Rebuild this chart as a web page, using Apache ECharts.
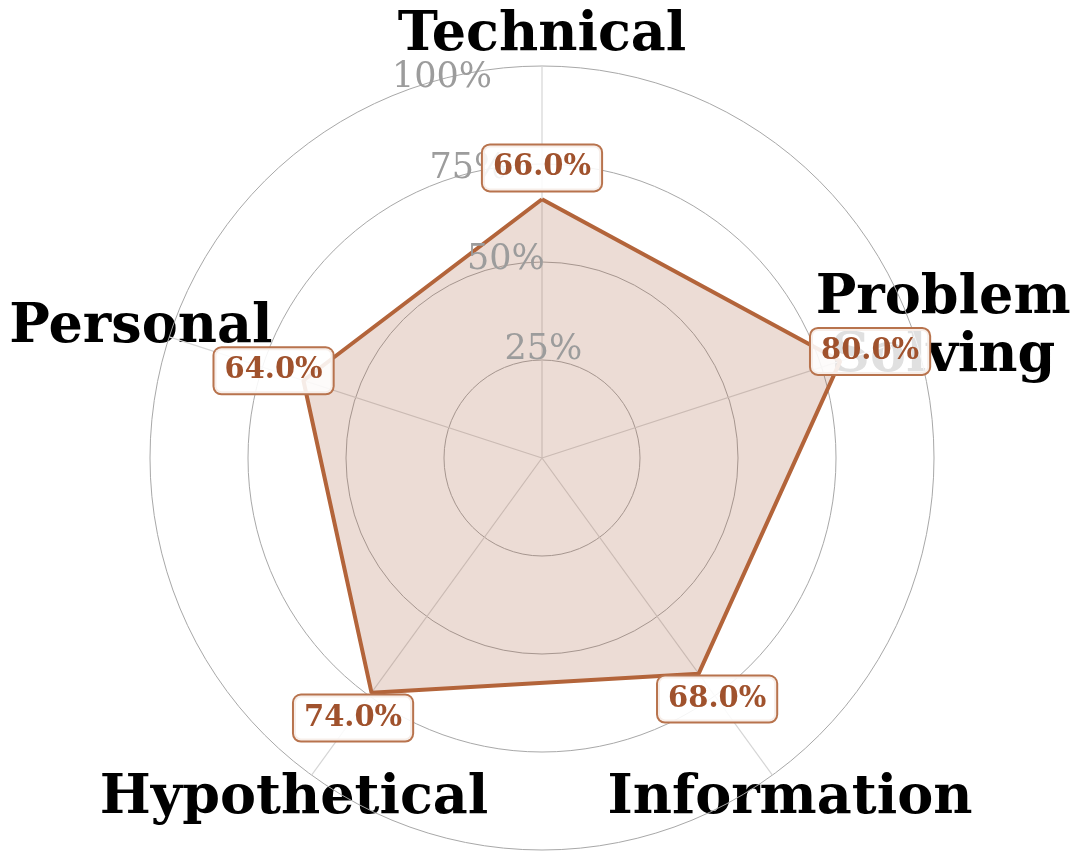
<!DOCTYPE html>
<html>
<head>
<meta charset="utf-8">
<script src="https://cdn.jsdelivr.net/npm/echarts@6/dist/echarts.min.js"></script>
<style>
  html, body { margin: 0; background: #fff; }
  #chart { width: 1080px; height: 860px; }
</style>
</head>
<body>
<div id="chart"></div>
<script>
// ===== data =====
const categories = ['Technical', 'Problem\nSolving', 'Information', 'Hypothetical', 'Personal'];
const scores = [66, 80, 68, 74, 64];
const radiusTicks = [25, 50, 75, 100];
const tickLabels = ['25%', '50%', '75%', '100%'];

// ===== style constants =====
const COLORS = {
  line: '#b3643a',
  area: 'rgba(160, 82, 45, 0.2)',
  valueText: '#a0522d',
  valueBorder: '#b8734d',
  circle: '#a8a8a8',
  spoke: '#d6d6d6',
  tick: '#9c9c9c',
  name: '#000000',
};
const FONT = '"DejaVu Serif", serif';
const STEP = 360 / categories.length;
const angleOf = (i) => i * STEP;
const LABEL_OFFSET = 8;        // value label sits 8 points beyond its vertex
const NAME_RADIUS = 107.6;     // category names ring, in radius units
const TICK_ANGLE = 360 - 22.5; // radial tick labels, 22.5deg left of top

// scatter carriers for text only (opacity 1, otherwise scatter fades its labels)
const carrier = { symbolSize: 1, itemStyle: { color: 'transparent', opacity: 1 }, clip: false, silent: true };

const chart = echarts.init(document.getElementById('chart'), null, { renderer: 'canvas' });

// closed polygon: repeat first vertex at 360
const polyData = scores.map((v, i) => [v, angleOf(i)]);
polyData.push([scores[0], 360]);

const option = {
  animation: false,
  backgroundColor: '#fff',
  polar: { center: [542, 458], radius: 392 },
  angleAxis: {
    type: 'value',
    min: 0,
    max: 360,
    interval: STEP,
    startAngle: 90,
    clockwise: true,
    axisLine: { show: false },
    axisTick: { show: false },
    axisLabel: { show: false },
    splitLine: { show: true, lineStyle: { color: COLORS.spoke, width: 1.2 } },
  },
  radiusAxis: {
    type: 'value',
    min: 0,
    max: 100,
    interval: 25,
    axisLine: { show: false },
    axisTick: { show: false },
    axisLabel: { show: false },
    splitLine: { show: true, lineStyle: { color: COLORS.circle, width: 1 } },
  },
  series: [
    {
      type: 'line',
      coordinateSystem: 'polar',
      data: polyData,
      symbol: 'none',
      lineStyle: { color: COLORS.line, width: 4 },
      areaStyle: { color: COLORS.area, opacity: 1 },
      z: 2,
    },
    {
      // radial tick labels
      type: 'scatter',
      coordinateSystem: 'polar',
      data: radiusTicks.map((r) => [r, TICK_ANGLE]),
      ...carrier,
      z: 3,
      label: {
        show: true,
        position: 'inside',
        align: 'left',
        verticalAlign: 'bottom',
        formatter: (p) => tickLabels[p.dataIndex],
        fontFamily: FONT,
        fontSize: 35,
        color: COLORS.tick,
      },
    },
    {
      // category names
      type: 'scatter',
      coordinateSystem: 'polar',
      data: categories.map((c, i) => [NAME_RADIUS, angleOf(i)]),
      ...carrier,
      z: -1,
      label: {
        show: true,
        position: 'inside',
        align: 'center',
        verticalAlign: 'middle',
        formatter: (p) => categories[p.dataIndex],
        fontFamily: FONT,
        fontWeight: 'bold',
        fontSize: 54,
        lineHeight: 58,
        color: COLORS.name,
      },
    },
    {
      // value labels
      type: 'scatter',
      coordinateSystem: 'polar',
      data: scores.map((v, i) => [v + LABEL_OFFSET, angleOf(i)]),
      ...carrier,
      z: 10,
      label: {
        show: true,
        position: 'inside',
        formatter: (p) => scores[p.dataIndex].toFixed(1) + '%',
        fontFamily: FONT,
        fontWeight: 'bold',
        fontSize: 29,
        lineHeight: 33,
        color: COLORS.valueText,
        backgroundColor: 'rgba(255, 255, 255, 0.88)',
        borderColor: COLORS.valueBorder,
        borderWidth: 2,
        borderRadius: 7,
        padding: [6, 10],
      },
    },
  ],
};

chart.setOption(option);
</script>
</body>
</html>
